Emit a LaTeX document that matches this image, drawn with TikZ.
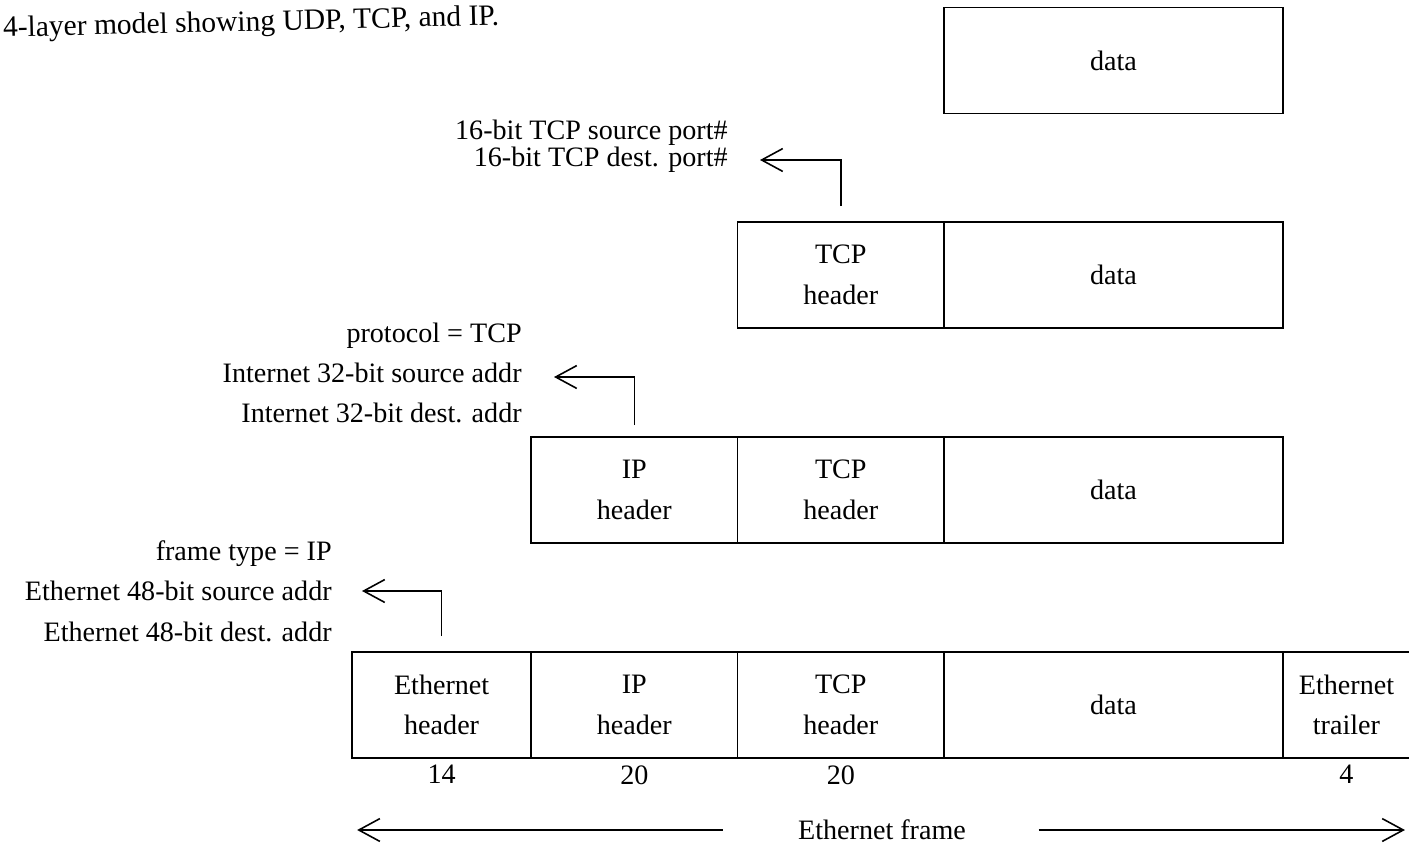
\documentclass[tikz,border=0pt]{standalone}
\usepackage{fontspec}
\setmainfont{Liberation Serif}
\usetikzlibrary{arrows.meta, positioning}

\begin{document}
\begin{tikzpicture}[
  x=0.02cm, y=-0.02cm,
  font=\fontsize{16}{23}\selectfont,
  cell/.style={rectangle, draw=black, line width=1pt, inner sep=0pt, outer sep=0pt, minimum height=2.12cm, align=center},
  datacell/.style={cell, minimum width=6.78cm},
  hdrcell/.style={cell, minimum width=4.13cm},
  note/.style={align=right, inner sep=0pt, anchor=east},
  size/.style={inner sep=0pt},
  arrow/.style={-{Straight Barb[length=12pt, width=13pt]}, line width=0.9pt}
]
\useasboundingbox (0,0) rectangle (1409,845);

% caption, slightly tilted as on the page
\node[inner sep=0pt, anchor=base west, rotate=1.4, font=\fontsize{16.8}{20}\selectfont] (caption) at (3,37) {4-layer model showing UDP, TCP, and IP.};

% application data
\node[datacell] (data1) at (1113.5,60.5) {data};

% TCP segment
\node[datacell] (data2) at (1113.5,275) {data};
\node[hdrcell, left=0pt of data2] (tcp2) {TCP\\header};

% IP datagram
\node[datacell] (data3) at (1113.5,490) {data};
\node[hdrcell, left=0pt of data3] (tcp3) {TCP\\header};
\node[hdrcell, left=0pt of tcp3] (ip3) {IP\\header};

% Ethernet frame
\node[datacell] (data4) at (1113.5,705) {data};
\node[hdrcell, left=0pt of data4] (tcp4) {TCP\\header};
\node[hdrcell, left=0pt of tcp4] (ip4) {IP\\header};
\node[cell, minimum width=3.58cm, left=0pt of ip4] (eth4) {Ethernet\\header};
\node[cell, minimum width=2.54cm, right=0pt of data4] (trl4) {Ethernet\\trailer};

% header field notes
\node[note, font=\fontsize{16}{15.4}\selectfont] (tcpnote) at (728,146) {16-bit TCP source port\#\\16-bit TCP dest. port\#};
\node[note] (ipnote) at (522,373) {protocol = TCP\\Internet 32-bit source addr\\Internet 32-bit dest. addr};
\node[note] (ethnote) at (332,591) {frame type = IP\\Ethernet 48-bit source addr\\Ethernet 48-bit dest. addr};

\draw[arrow] ([yshift=0.32cm]tcp2.north) |- ([xshift=0.64cm, yshift=-0.28cm]tcpnote.east);
\draw[arrow] ([yshift=0.24cm]ip3.north) |- ([xshift=0.64cm, yshift=-0.08cm]ipnote.east);
\draw[arrow] ([yshift=0.32cm]eth4.north) |- ([xshift=0.6cm]ethnote.east);

% sizes in bytes
\node[size, below=4pt of eth4] (ethlen) {14};
\node[size, below=4pt of ip4] (iplen) {20};
\node[size, below=4pt of tcp4] (tcplen) {20};
\node[size, below=4pt of trl4] (trllen) {4};

\node[size] (frame) at (882,830) {Ethernet frame};
\draw[arrow] ([xshift=-1.5cm]frame.west) -- ([xshift=0.1cm]eth4.west |- frame.west);
\draw[arrow] ([xshift=1.45cm]frame.east) -- ([xshift=-0.1cm]trl4.east |- frame.east);

\end{tikzpicture}
\end{document}
